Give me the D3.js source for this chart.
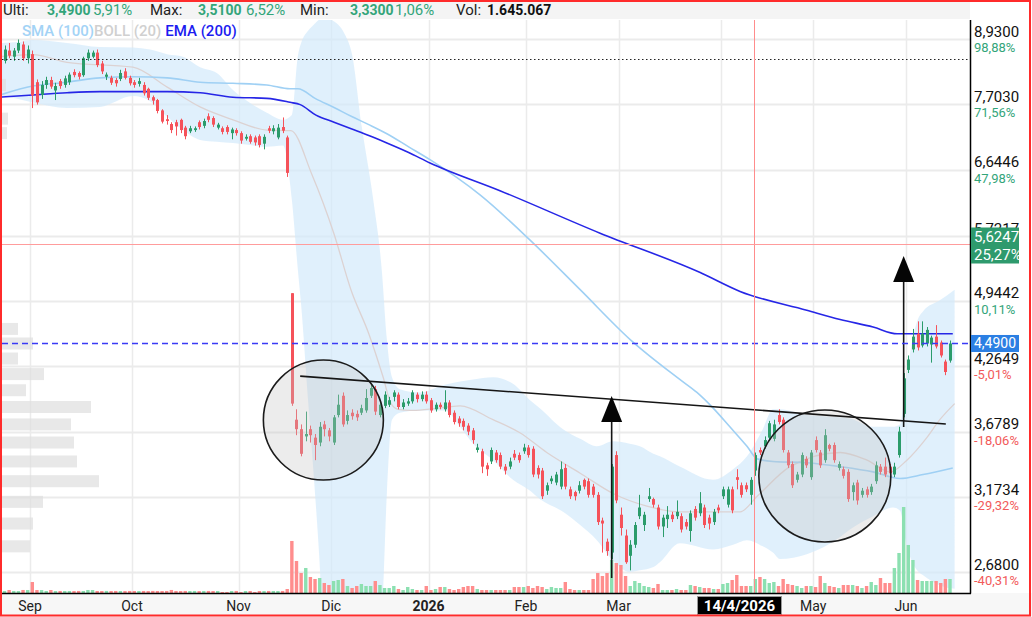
<!DOCTYPE html>
<html>
<head>
<meta charset="utf-8">
<script src="https://cdnjs.cloudflare.com/ajax/libs/d3/7.8.5/d3.min.js"></script>
<style>
  body { margin: 0; background: #fff; }
  svg { display: block; font-family: Roboto, "Liberation Sans", Arial, sans-serif; }
</style>
</head>
<body>
<svg id="chart" width="1032" height="617"></svg>
<script>
// daily candles, index 0 = first session shown (late Aug 2025)
const opens = [8.50,8.70,8.58,8.70,8.82,8.55,8.63,8.10,7.87,8.05,
  8.14,7.95,8.12,8.05,8.10,8.29,8.27,8.23,8.55,8.58,
  8.66,8.45,8.20,8.18,8.14,8.16,8.30,8.18,8.10,8.07,
  8.05,7.98,7.83,7.78,7.60,7.45,7.37,7.40,7.44,7.31,
  7.25,7.27,7.40,7.34,7.50,7.47,7.31,7.30,7.32,7.22,
  7.27,7.22,7.13,7.17,7.15,7.17,7.05,7.30,7.25,7.15,
  7.32,7.15,5.03,3.78,3.70,3.64,3.70,3.63,3.59,3.74,
  3.69,3.59,3.82,3.99,3.77,3.84,3.83,3.84,3.86,3.99,
  4.05,3.82,3.90,3.91,3.98,4.00,3.89,3.92,3.94,4.00,
  3.96,4.00,3.95,3.87,3.91,3.87,3.93,3.84,3.79,3.77,
  3.73,3.69,3.53,3.52,3.41,3.44,3.51,3.49,3.40,3.40,
  3.50,3.49,3.52,3.55,3.54,3.39,3.37,3.22,3.29,3.28,
  3.25,3.39,3.23,3.21,3.22,3.30,3.29,3.25,3.19,3.01,
  2.87,2.80,3.49,3.05,2.91,2.78,2.85,3.04,2.98,3.16,
  3.16,3.10,2.97,3.02,3.05,3.04,3.04,3.00,2.94,3.09,
  3.06,3.10,3.03,3.00,3.10,3.18,3.12,3.23,3.32,3.26,
  3.26,3.19,3.37,3.53,3.56,3.63,3.62,3.82,3.78,3.51,
  3.42,3.30,3.34,3.46,3.32,3.61,3.51,3.45,3.57,3.57,
  3.39,3.38,3.36,3.21,3.28,3.19,3.23,3.21,3.29,3.40,
  3.40,3.40,3.34,3.49,3.83,4.23,4.43,4.59,4.47,4.49,
  4.48,4.56,4.50,4.31,4.32];
const highs = [8.80,8.85,8.75,8.92,8.88,8.80,8.70,8.15,8.12,8.20,
  8.20,8.09,8.16,8.22,8.28,8.34,8.30,8.58,8.72,8.70,
  8.72,8.50,8.28,8.22,8.18,8.33,8.36,8.22,8.14,8.18,
  8.10,8.00,7.86,7.80,7.62,7.52,7.40,7.44,7.46,7.34,
  7.34,7.33,7.43,7.46,7.55,7.50,7.39,7.33,7.35,7.31,
  7.30,7.25,7.20,7.20,7.18,7.20,7.20,7.34,7.35,7.37,
  7.48,7.18,5.03,3.87,3.74,3.85,3.73,3.66,3.76,3.77,
  3.71,3.82,4.00,4.02,3.86,3.87,3.86,3.91,4.05,4.10,
  4.08,3.94,4.03,3.98,4.04,4.02,3.96,3.97,4.04,4.02,
  4.03,4.03,3.97,3.93,3.93,4.04,3.95,3.86,3.81,3.79,
  3.75,3.71,3.58,3.54,3.43,3.55,3.53,3.51,3.42,3.47,
  3.53,3.51,3.58,3.57,3.56,3.41,3.39,3.28,3.33,3.36,
  3.44,3.42,3.25,3.22,3.29,3.31,3.31,3.27,3.21,3.03,
  2.89,3.42,3.52,3.10,2.95,2.88,3.00,3.19,3.07,3.24,
  3.17,3.12,3.05,3.11,3.07,3.15,3.06,3.02,3.08,3.11,
  3.21,3.12,3.05,3.09,3.12,3.25,3.25,3.25,3.38,3.28,
  3.28,3.32,3.51,3.55,3.64,3.77,3.78,3.87,3.80,3.53,
  3.44,3.36,3.51,3.48,3.53,3.64,3.53,3.70,3.58,3.59,
  3.44,3.40,3.38,3.28,3.30,3.24,3.25,3.27,3.44,3.42,
  3.47,3.42,3.43,3.72,4.20,4.37,4.64,4.72,4.72,4.66,
  4.57,4.68,4.52,4.33,4.52];
const lows = [8.45,8.55,8.50,8.65,8.50,8.45,7.64,7.70,7.80,7.98,
  7.98,7.78,7.98,8.00,8.05,8.19,8.15,8.20,8.50,8.55,
  8.38,8.25,8.14,8.05,8.02,8.12,8.15,8.04,8.00,8.02,
  7.86,7.78,7.70,7.55,7.38,7.36,7.22,7.18,7.22,7.12,
  7.22,7.24,7.28,7.30,7.40,7.32,7.28,7.20,7.20,7.12,
  7.18,7.05,7.10,7.05,7.02,6.99,6.96,7.22,7.20,7.12,
  7.22,6.54,3.90,3.65,3.48,3.60,3.59,3.45,3.56,3.64,
  3.60,3.57,3.80,3.72,3.74,3.78,3.77,3.82,3.84,3.97,
  3.82,3.80,3.88,3.89,3.94,3.87,3.87,3.90,3.92,3.93,
  3.94,3.92,3.84,3.85,3.87,3.85,3.80,3.74,3.72,3.69,
  3.65,3.58,3.51,3.35,3.33,3.42,3.43,3.38,3.34,3.38,
  3.45,3.43,3.50,3.47,3.32,3.31,3.16,3.19,3.27,3.26,
  3.23,3.23,3.16,3.15,3.20,3.23,3.17,3.17,2.98,2.80,
  2.78,2.76,3.13,2.91,2.73,2.69,2.83,3.02,2.94,3.14,
  3.10,2.95,2.90,2.96,3.00,3.02,2.93,2.95,2.87,3.01,
  3.04,2.96,2.95,2.98,3.06,3.16,3.10,3.06,3.23,3.17,
  3.21,3.12,3.33,3.49,3.54,3.61,3.60,3.74,3.51,3.39,
  3.24,3.28,3.32,3.39,3.30,3.51,3.39,3.43,3.52,3.43,
  3.37,3.31,3.14,3.15,3.12,3.17,3.17,3.19,3.27,3.34,
  3.32,3.33,3.32,3.47,3.80,4.20,4.40,4.42,4.45,4.46,
  4.30,4.44,4.35,4.18,4.30];
const closes = [8.72,8.60,8.70,8.85,8.55,8.72,7.86,7.74,8.05,8.14,
  8.02,8.03,8.03,8.17,8.24,8.23,8.20,8.55,8.66,8.66,
  8.42,8.30,8.24,8.09,8.08,8.27,8.18,8.08,8.05,8.12,
  7.90,7.82,7.77,7.59,7.41,7.42,7.27,7.33,7.27,7.17,
  7.30,7.30,7.32,7.42,7.44,7.36,7.36,7.24,7.24,7.28,
  7.22,7.10,7.16,7.08,7.07,7.03,7.16,7.26,7.30,7.31,
  7.26,6.60,3.92,3.70,3.50,3.66,3.65,3.57,3.72,3.70,
  3.64,3.80,3.91,3.74,3.82,3.81,3.80,3.88,3.97,4.06,
  3.85,3.91,4.00,3.95,4.02,3.89,3.93,3.94,4.02,3.96,
  4.00,3.94,3.86,3.91,3.89,3.93,3.82,3.76,3.75,3.72,
  3.68,3.61,3.55,3.40,3.38,3.53,3.45,3.40,3.37,3.44,
  3.47,3.45,3.55,3.49,3.34,3.34,3.18,3.26,3.31,3.34,
  3.38,3.25,3.18,3.18,3.26,3.25,3.19,3.19,3.00,2.99,
  2.81,3.40,3.15,2.96,2.74,2.85,2.98,3.10,3.05,3.18,
  3.12,2.97,3.03,3.05,3.02,3.07,2.95,2.97,3.06,3.03,
  3.13,2.98,2.99,3.07,3.08,3.23,3.23,3.08,3.30,3.19,
  3.23,3.30,3.49,3.51,3.61,3.75,3.74,3.76,3.53,3.41,
  3.26,3.34,3.49,3.41,3.51,3.53,3.41,3.65,3.54,3.45,
  3.42,3.33,3.16,3.26,3.15,3.22,3.19,3.25,3.41,3.36,
  3.34,3.35,3.40,3.68,4.15,4.33,4.56,4.45,4.59,4.63,
  4.55,4.46,4.37,4.21,4.49];
// volume, thousands of shares
const volumes = [231,352,240,228,355,348,1290,350,346,236,
  352,229,241,233,238,226,242,237,354,349,
  236,231,244,229,238,233,227,241,236,232,
  238,229,243,235,231,240,357,236,228,241,
  233,239,226,238,242,230,236,118,121,234,
  240,117,232,238,119,236,229,241,237,233,
  240,470,6110,3760,2350,2938,1880,1645,1762,1175,
  940,1410,1528,1645,822,588,822,1058,822,822,
  1410,940,588,588,822,470,352,705,470,352,
  352,822,352,470,705,705,470,352,470,705,
  822,822,470,352,352,352,352,352,352,352,
  705,705,705,822,588,822,705,470,705,588,
  588,1292,470,352,352,352,352,1645,2350,1998,
  2350,3878,3525,3290,1998,822,1410,1175,822,705,
  588,1058,352,352,352,470,352,352,940,822,
  705,588,588,470,470,1058,1175,1528,2115,822,
  822,822,1645,1880,1645,1175,1292,822,1645,1058,
  940,822,588,822,822,705,1998,1175,822,705,
  588,940,940,940,822,588,822,1292,940,1762,
  1175,1175,2938,4700,10100,5640,3878,1528,1410,1410,
  1410,1410,1175,1645,1645];

// indicator readings: [session index, price]
const smaPts = [[-1,7.87],[6.1,8.03],[13.5,8.10],[20.6,8.18],[27.7,8.20],[35.1,8.18],[42.2,8.10],
  [49.3,8.08],[56.6,8.05],[61.6,7.98],[63.3,7.98],[67.2,7.80],[71.1,7.65],[74.8,7.50],[78.6,7.36],
  [82.5,7.21],[87.2,7.00],[91.8,6.80],[102.6,6.28],[113.4,5.67],[124.2,5.07],[135,4.53],[145.7,4.14],
  [149.4,4.02],[152.9,3.88],[156.5,3.72],[160.2,3.56],[162.4,3.46],[165.8,3.44],[173.1,3.43],
  [180.3,3.40],[187.4,3.36],[193.2,3.31],[198.2,3.34],[204.6,3.39]];
const emaPts = [[-1,7.83],[6.1,7.87],[13.5,7.91],[20.6,7.93],[35.1,7.93],[42.2,7.91],[49.3,7.83],
  [56.6,7.81],[61.6,7.74],[63.8,7.70],[67.2,7.52],[71.1,7.40],[74.8,7.29],[78.6,7.18],[82.5,7.06],
  [87.2,6.91],[91.8,6.75],[106.9,6.34],[128.5,5.76],[150.1,5.27],[158.7,5.05],[173.1,4.84],
  [180.3,4.74],[187.4,4.66],[192.6,4.59],[204.6,4.59]];
const bollMid = [[-1,8.58],[6.1,8.62],[13.5,8.47],[27.7,8.38],[35.1,8.01],[42.2,7.66],[49.3,7.44],
  [56.6,7.27],[61.8,7.26],[66.3,6.58],[71.1,5.75],[74.8,5.06],[78.6,4.59],[81.7,4.16],[83.4,3.92],
  [84.9,3.87],[87.5,3.86],[91.2,3.87],[95.5,3.89],[98.3,3.90],[105.4,3.78],[111.2,3.67],[117,3.51],
  [124.2,3.35],[131.3,3.20],[138.6,3.11],[145.7,3.07],[152.9,3.07],[158.7,3.07],[162.4,3.18],
  [169.5,3.40],[180.3,3.51],[186.1,3.45],[191.1,3.36],[194.7,3.45],[199,3.63],[201.8,3.78],[205,3.92]];
const bandIdx = [-1,3,6,13.5,20.6,27.7,31.4,35.1,38.5,42.2,45.8,49.3,53,56.6,60.1,62,63.3,64,65.5,66.3,
  67.9,68.7,71.3,73.5,75,77.1,79.5,81.4,82.5,83.6,85.3,89.6,95,98.3,101.1,105.4,109.7,113.4,115.5,
  120.5,124.2,127.8,131.3,134.9,137.1,140,141.4,145.7,152.9,157.2,160.2,163.6,165.8,167.3,173.1,
  180.3,182.4,187.4,191.7,193.2,194.7,196.9,198.2,201.8,205];
const bandUp = [8.85,8.87,8.91,8.85,8.77,8.76,8.72,8.63,8.58,8.38,8.27,7.96,7.73,7.56,7.44,7.52,8.60,8.85,
  9.10,9.18,9.33,9.37,9.28,9.01,8.62,7.32,6.24,5.30,4.53,4.16,4.05,4.02,4.09,4.12,4.14,4.16,4.10,3.95,
  3.88,3.70,3.62,3.56,3.60,3.58,3.56,3.50,3.48,3.40,3.30,3.38,3.48,3.70,3.87,3.87,3.82,3.80,3.79,3.72,
  3.72,3.74,4.20,4.72,4.83,4.95,5.07];
const bandLo = [7.87,7.80,7.74,7.64,7.66,7.85,7.76,7.49,7.27,7.11,7.08,7.06,7.03,7.00,7.02,6.21,5.30,4.90,
  3.95,3.54,2.78,2.41,2.20,2.20,2.20,2.20,2.25,2.45,3.20,3.78,3.84,3.86,3.86,3.72,3.58,3.45,3.30,3.22,
  3.16,3.07,2.98,2.88,2.75,2.68,2.69,2.71,2.74,2.86,2.82,2.85,2.88,2.84,2.80,2.76,2.79,2.90,2.95,3.04,
  3.10,3.08,2.84,2.69,2.66,2.60,2.58];

// volume profile (price bin centre, relative volume)
const vpPrices = [8.05,7.46,7.22,4.64,4.49,4.34,4.19,4.04,3.89,3.74,3.59,3.44,3.29,3.14,2.99,2.84];
const vpVols = [4,6,5,16,31,16,42,24,89,69,72,75,97,41,31,28];

// right axis (the 5,7217 change label sits under the crosshair tag)
const tickVals = [8.93,7.703,6.6446,5.7217,4.9442,4.2649,3.6789,3.1734,2.68];
const tickLabels = ["8,9300","7,7030","6,6446","5,7217","4,9442","4,2649","3,6789","3,1734","2,6800"];
const tickPcts = ["98,88%","71,56%","47,98%","","10,11%","-5,01%","-18,06%","-29,32%","-40,31%"];

// bottom axis (April label is covered by the crosshair date)
const monthLabels = ["Sep","Oct","Nov","Dic","2026","Feb","Mar","","May","Jun"];
const monthStarts = [5.5,27.5,50.5,70.5,91.5,112.5,132.5,154.5,174.5,194.5];

// reference levels and drawings
const lastPrice = 4.49, lastLabel = "4,4900";
const prevHigh = 8.532;
const crossIdx = 162, crossPrice = 5.6247, crossLabel = "5,6247", crossPct = "25,27%", crossDate = "14/4/2026";
const trendPts = [[63.8,4.171],[203.1,3.743]];
const circles = [[68.8,3.777,60],[177.0,3.329,66]];
const arrows = [[131,2.644,3.987],[194,3.718,5.470]];   // idx, from price, tip price

const headerItems = [["Ulti:",3,"n"],["3,4900",47,"bg"],["5,91%",93,"g"],["Max:",150,"n"],["3,5100",198,"bg"],
  ["6,52%",246,"g"],["Min:",300,"n"],["3,3300",350,"bg"],["1,06%",395,"g"],["Vol:",456,"n"],["1.645.067",487,"b"]];

const W = 1032, H = 617;
const L = 2, R = 970, T = 20, B = 593;
const upCol = "#2b9c6b", dnCol = "#f5525a";
const upVol = "#8ce0b1", dnVol = "#ff8d8d";
const green = "#33a57a", red = "#f25a5a";

const svg = d3.select("#chart");

const x = d3.scaleLinear().domain([0, 204]).range([4.5, 950]);
const y = d3.scaleLog().domain([2.68, 8.93]).range([572, 39]);
const vh = d3.scaleLinear().domain([0, 10100]).range([0, 86]);
const vpw = d3.scaleLinear().domain([0, 100]).range([0, 100]);

svg.append("rect").attr("width", W).attr("height", H).attr("fill", "#fff");
svg.append("rect").attr("x", 0).attr("y", 0).attr("width", R).attr("height", T - 1).attr("fill", "#f4f4f4");
svg.append("rect").attr("x", 0).attr("y", B).attr("width", W).attr("height", H - B).attr("fill", "#f7f7f7");

svg.append("defs").append("clipPath").attr("id", "clip")
  .append("rect").attr("x", L).attr("y", T).attr("width", R - L).attr("height", B - T);

const plot = svg.append("g").attr("clip-path", "url(#clip)");

// grid
plot.selectAll(".hg").data(tickVals).enter().append("line")
  .attr("x1", L).attr("x2", R).attr("y1", d => Math.round(y(d)) + 0.5).attr("y2", d => Math.round(y(d)) + 0.5)
  .attr("stroke", "#ebebeb").attr("stroke-width", 2);
plot.selectAll(".vg").data(monthStarts).enter().append("line")
  .attr("y1", T).attr("y2", B).attr("x1", d => Math.round(x(d)) + 0.5).attr("x2", d => Math.round(x(d)) + 0.5)
  .attr("stroke", "#ebebeb").attr("stroke-width", 1.5);

// bollinger band
const band = bandIdx.map((d, i) => [d, bandUp[i], bandLo[i]]);
plot.append("path")
  .attr("d", d3.area().x(d => x(d[0])).y0(d => y(d[2])).y1(d => y(d[1])).curve(d3.curveMonotoneX)(band))
  .attr("fill", "#d3eafb").attr("fill-opacity", 0.7);

// volume profile
plot.selectAll(".vp").data(vpPrices).enter().append("rect")
  .attr("x", L).attr("y", d => y(d) - 6).attr("height", 12)
  .attr("width", (d, i) => vpw(vpVols[i]))
  .attr("fill", "#dedede").attr("fill-opacity", 0.7);

// volume
plot.selectAll(".vol").data(volumes).enter().append("rect")
  .attr("x", (d, i) => x(i) - 1.7).attr("width", 3.4)
  .attr("y", d => B - vh(d)).attr("height", d => vh(d))
  .attr("fill", (d, i) => closes[i] >= opens[i] ? upVol : dnVol);

// indicator lines
const line = d3.line().x(d => x(d[0])).y(d => y(d[1])).curve(d3.curveMonotoneX);
plot.append("path").attr("d", line(bollMid)).attr("fill", "none").attr("stroke", "#dcd2d2").attr("stroke-width", 1.3);
plot.append("path").attr("d", line(smaPts)).attr("fill", "none").attr("stroke", "#9fd0f4").attr("stroke-width", 1.6);
plot.append("path").attr("d", line(emaPts)).attr("fill", "none").attr("stroke", "#2626e6").attr("stroke-width", 1.6);

// candles
const candles = plot.append("g");
opens.forEach((o, i) => {
  const c = closes[i], col = c >= o ? upCol : dnCol;
  const cx = Math.round(x(i)) + 0.5;
  candles.append("line").attr("x1", cx).attr("x2", cx)
    .attr("y1", y(highs[i])).attr("y2", y(lows[i])).attr("stroke", col).attr("stroke-width", 1);
  const top = y(Math.max(o, c)), bot = y(Math.min(o, c));
  candles.append("rect").attr("x", cx - 1.5).attr("width", 3)
    .attr("y", top).attr("height", Math.max(1, bot - top)).attr("fill", col);
});

// drawings
plot.selectAll(".circ").data(circles).enter().append("circle")
  .attr("cx", d => x(d[0])).attr("cy", d => y(d[1])).attr("r", d => d[2])
  .attr("fill", "#c4c4c4").attr("fill-opacity", 0.32)
  .attr("stroke", "#1b1b1b").attr("stroke-width", 1.6);

plot.append("line")
  .attr("x1", x(trendPts[0][0])).attr("y1", y(trendPts[0][1]))
  .attr("x2", x(trendPts[1][0])).attr("y2", y(trendPts[1][1]))
  .attr("stroke", "#151515").attr("stroke-width", 1.6);

arrows.forEach(a => {
  const ax = x(a[0]), tip = y(a[2]);
  plot.append("line").attr("x1", ax).attr("x2", ax).attr("y1", y(a[1])).attr("y2", tip + 24)
    .attr("stroke", "#151515").attr("stroke-width", 1.6);
  plot.append("path").attr("d", `M${ax},${tip} L${ax + 10.5},${tip + 26} L${ax - 10.5},${tip + 26} Z`)
    .attr("fill", "#050505");
});

// reference lines
plot.append("line").attr("x1", L).attr("x2", R).attr("y1", Math.round(y(prevHigh)) + 0.5).attr("y2", Math.round(y(prevHigh)) + 0.5)
  .attr("stroke", "#222").attr("stroke-width", 1.2).attr("stroke-dasharray", "1.5,2.5");
plot.append("line").attr("x1", L).attr("x2", R).attr("y1", Math.round(y(lastPrice)) + 0.5).attr("y2", Math.round(y(lastPrice)) + 0.5)
  .attr("stroke", "#3a3af5").attr("stroke-width", 1.4).attr("stroke-dasharray", "6,4");

// crosshair
const chx = Math.round(x(crossIdx)) - 0.5, chy = Math.round(y(crossPrice)) + 0.5;
plot.append("line").attr("x1", chx).attr("x2", chx).attr("y1", T).attr("y2", B).attr("stroke", "#ff8c8c").attr("stroke-width", 1);
plot.append("line").attr("x1", L).attr("x2", R).attr("y1", chy).attr("y2", chy).attr("stroke", "#ff9c9c").attr("stroke-width", 1);

// axes frame
svg.append("line").attr("x1", R + 0.5).attr("x2", R + 0.5).attr("y1", T).attr("y2", B + 0.5).attr("stroke", "#000").attr("stroke-width", 1.5);
svg.append("line").attr("x1", L).attr("x2", R + 1).attr("y1", B + 0.5).attr("y2", B + 0.5).attr("stroke", "#000").attr("stroke-width", 1.5);

// right axis labels
const ax = svg.append("g");
tickVals.forEach((v, i) => {
  const ty = y(v);
  ax.append("text").attr("x", 974).attr("y", ty - 2.5).attr("font-size", 15).attr("fill", "#111").text(tickLabels[i]);
  if (tickPcts[i]) {
    ax.append("text").attr("x", 974).attr("y", ty + 13).attr("font-size", 13)
      .attr("fill", v >= lastPrice ? green : red).text(tickPcts[i]);
  }
});

// last price tag
const ly = y(lastPrice);
ax.append("rect").attr("x", R + 1).attr("y", ly - 8.5).attr("width", 48).attr("height", 17).attr("fill", "#2b7fe3");
ax.append("text").attr("x", 974).attr("y", ly + 4.5).attr("font-size", 14).attr("fill", "#fff").text(lastLabel);

// crosshair price tag
ax.append("rect").attr("x", R + 1).attr("y", chy - 17).attr("width", 48).attr("height", 36).attr("fill", "#2e9a6d");
ax.append("text").attr("x", 974).attr("y", chy - 3).attr("font-size", 15).attr("fill", "#fff").text(crossLabel);
ax.append("text").attr("x", 974).attr("y", chy + 15).attr("font-size", 15).attr("fill", "#fff").text(crossPct);

// bottom axis labels
svg.selectAll(".ml").data(monthLabels.filter(d => d)).enter().append("text")
  .attr("x", d => x(monthStarts[monthLabels.indexOf(d)])).attr("y", 611)
  .attr("text-anchor", "middle").attr("font-size", 14).attr("fill", "#222")
  .attr("font-weight", d => d === "2026" ? "bold" : "normal")
  .text(d => d);

svg.append("rect").attr("x", chx - 57).attr("y", 596.5).attr("width", 84).attr("height", 18)
  .attr("fill", "#000").attr("stroke", "#9a9a9a").attr("stroke-width", 1);
svg.append("text").attr("x", chx - 15).attr("y", 611).attr("text-anchor", "middle")
  .attr("font-size", 15).attr("font-weight", "bold").attr("fill", "#fff").text(crossDate);

// legend
const leg = svg.append("text").attr("x", 22).attr("y", 36).attr("font-size", 15).attr("font-weight", 500);
leg.append("tspan").attr("fill", "#a3d3f6").text("SMA (100)");
leg.append("tspan").attr("fill", "#d0d0d0").text("BOLL (20)");
leg.append("tspan").attr("fill", "#1c1cf0").attr("dx", 4).text("EMA (200)");

// header
headerItems.forEach(h => {
  const bold = h[2] === "bg" || h[2] === "b";
  svg.append("text").attr("x", h[1]).attr("y", 15).attr("font-size", bold ? 14 : 15)
    .attr("font-weight", bold ? "bold" : "normal")
    .attr("fill", h[2] === "n" ? "#222" : h[2] === "b" ? "#111" : green)
    .text(h[0]);
});

// outer frame
svg.append("rect").attr("x", 1).attr("y", 1).attr("width", 1029).attr("height", 614.5)
  .attr("fill", "none").attr("stroke", "#ff2b2b").attr("stroke-width", 2);
</script>
</body>
</html>
